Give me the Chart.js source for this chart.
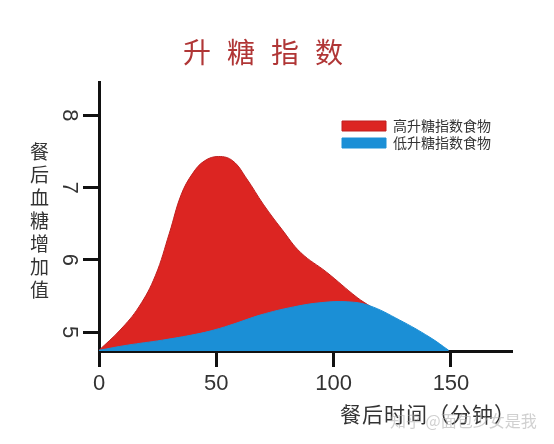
<!DOCTYPE html>
<html>
<head>
<meta charset="utf-8">
<script src="https://cdn.jsdelivr.net/npm/chart.js@4/dist/chart.umd.min.js"></script>
<style>
  html, body { margin: 0; padding: 0; background: #ffffff; }
  #wrap { position: relative; width: 554px; height: 444px; overflow: hidden; background: #ffffff; }
  #c { position: absolute; left: 0; top: 0; }
  .txt { position: absolute; white-space: nowrap; font-family: "Noto Sans CJK SC", "Noto Sans", sans-serif; }
  #title { left: 183px; top: 36px; font-size: 28px; line-height: 30px; letter-spacing: 16px; color: #b03636; }
  #ytitle { left: 30px; top: 142px; font-size: 19px; line-height: 19px; letter-spacing: 4px; color: #333; writing-mode: vertical-rl; text-orientation: upright; }
  #xtitle { left: 340px; top: 401px; font-size: 21px; line-height: 24px; letter-spacing: 1px; color: #333; }
  #wm { left: 390px; top: 410px; font-size: 16px; line-height: 20px; color: rgba(170,170,170,0.55); }
</style>
</head>
<body>
<div id="wrap">
  <canvas id="c" width="554" height="444"></canvas>
  <div class="txt" id="title"></div>
  <div class="txt" id="ytitle"></div>
  <div class="txt" id="xtitle"></div>
  <div class="txt" id="wm"></div>
</div>
<script>
// ---- text ----
const chartTitle = '升糖指数';
const yAxisTitle = '餐后血糖增加值';
const xAxisTitle = '餐后时间（分钟）';
const watermark = '知乎 @面包少女是我';
const seriesNames = ['高升糖指数食物', '低升糖指数食物'];

// ---- data ----
const highX = [0, 9, 17, 24, 30, 35, 40, 45, 51, 57, 63, 70, 78, 86, 97, 110, 116];
const highY = [4.75, 5.03, 5.35, 5.78, 6.37, 6.90, 7.20, 7.37, 7.43, 7.37, 7.12, 6.77, 6.42, 6.10, 5.83, 5.48, 5.35];
const lowX = [0, 12, 27, 41, 49, 58, 69, 83, 95, 106, 115, 128, 141, 149];
const lowY = [4.75, 4.82, 4.89, 4.97, 5.03, 5.12, 5.24, 5.35, 5.41, 5.42, 5.37, 5.17, 4.93, 4.75];

// ---- ticks ----
const xTicks = [0, 50, 100, 150];
const yTicks = [5, 6, 7, 8];

document.getElementById('title').textContent = chartTitle;
document.getElementById('ytitle').textContent = yAxisTitle;
document.getElementById('xtitle').textContent = xAxisTitle;
document.getElementById('wm').textContent = watermark;

const toPoints = (xs, ys) => xs.map((x, i) => ({ x: x, y: ys[i] }));

const legendPlacer = {
  id: 'legendPlacer',
  afterLayout(chart) {
    const lg = chart.legend;
    if (!lg) return;
    const ca = chart.chartArea;
    lg.left = ca.right - 173;
    lg.right = lg.left + lg.width;
    lg.top = ca.top + 34;
    lg.bottom = ca.bottom;
  }
};

const axisGrid = { display: true, drawOnChartArea: false, drawTicks: true, tickLength: 16, tickWidth: 3, tickColor: '#111' };
const axisBorder = { display: true, width: 3, color: '#111' };
const tickFont = { family: '"Liberation Sans", Arial, sans-serif', size: 22 };

new Chart(document.getElementById('c'), {
  type: 'line',
  data: {
    datasets: [
      {
        label: seriesNames[0],
        data: toPoints(highX, highY),
        backgroundColor: '#dc2522',
        borderColor: '#c01f1f',
        borderWidth: 1,
        fill: 'start',
        pointRadius: 0,
        tension: 0.4,
        order: 2
      },
      {
        label: seriesNames[1],
        data: toPoints(lowX, lowY),
        backgroundColor: '#1b8fd6',
        borderColor: '#1b8fd6',
        borderWidth: 1,
        fill: 'start',
        pointRadius: 0,
        tension: 0.4,
        order: 1
      }
    ]
  },
  options: {
    responsive: false,
    animation: false,
    devicePixelRatio: 1,
    layout: { padding: { top: 82, right: 42, left: 0, bottom: 0 } },
    plugins: {
      legend: {
        position: 'chartArea',
        align: 'start',
        labels: {
          boxWidth: 44,
          boxHeight: 10,
          padding: 3,
          color: '#333',
          font: { family: '"Noto Sans CJK SC", sans-serif', size: 14 },
          sort: (a, b) => a.datasetIndex - b.datasetIndex
        }
      },
      title: { display: false },
      tooltip: { enabled: false }
    },
    scales: {
      x: {
        type: 'linear',
        min: 0,
        max: 176,
        afterBuildTicks: (s) => { s.ticks = xTicks.map(v => ({ value: v })); },
        afterFit: (s) => { s.height = 93; },
        grid: axisGrid,
        border: axisBorder,
        ticks: { padding: 4, font: tickFont, color: '#333', maxRotation: 0, autoSkip: false }
      },
      y: {
        type: 'linear',
        min: 4.74,
        max: 8.46,
        afterBuildTicks: (s) => { s.ticks = yTicks.map(v => ({ value: v })); },
        afterFit: (s) => { s.width = 99; },
        grid: axisGrid,
        border: axisBorder,
        ticks: { padding: 8, font: tickFont, color: '#333', minRotation: -90, maxRotation: -90, crossAlign: 'center', autoSkip: false }
      }
    }
  },
  plugins: [legendPlacer]
});
</script>
</body>
</html>
